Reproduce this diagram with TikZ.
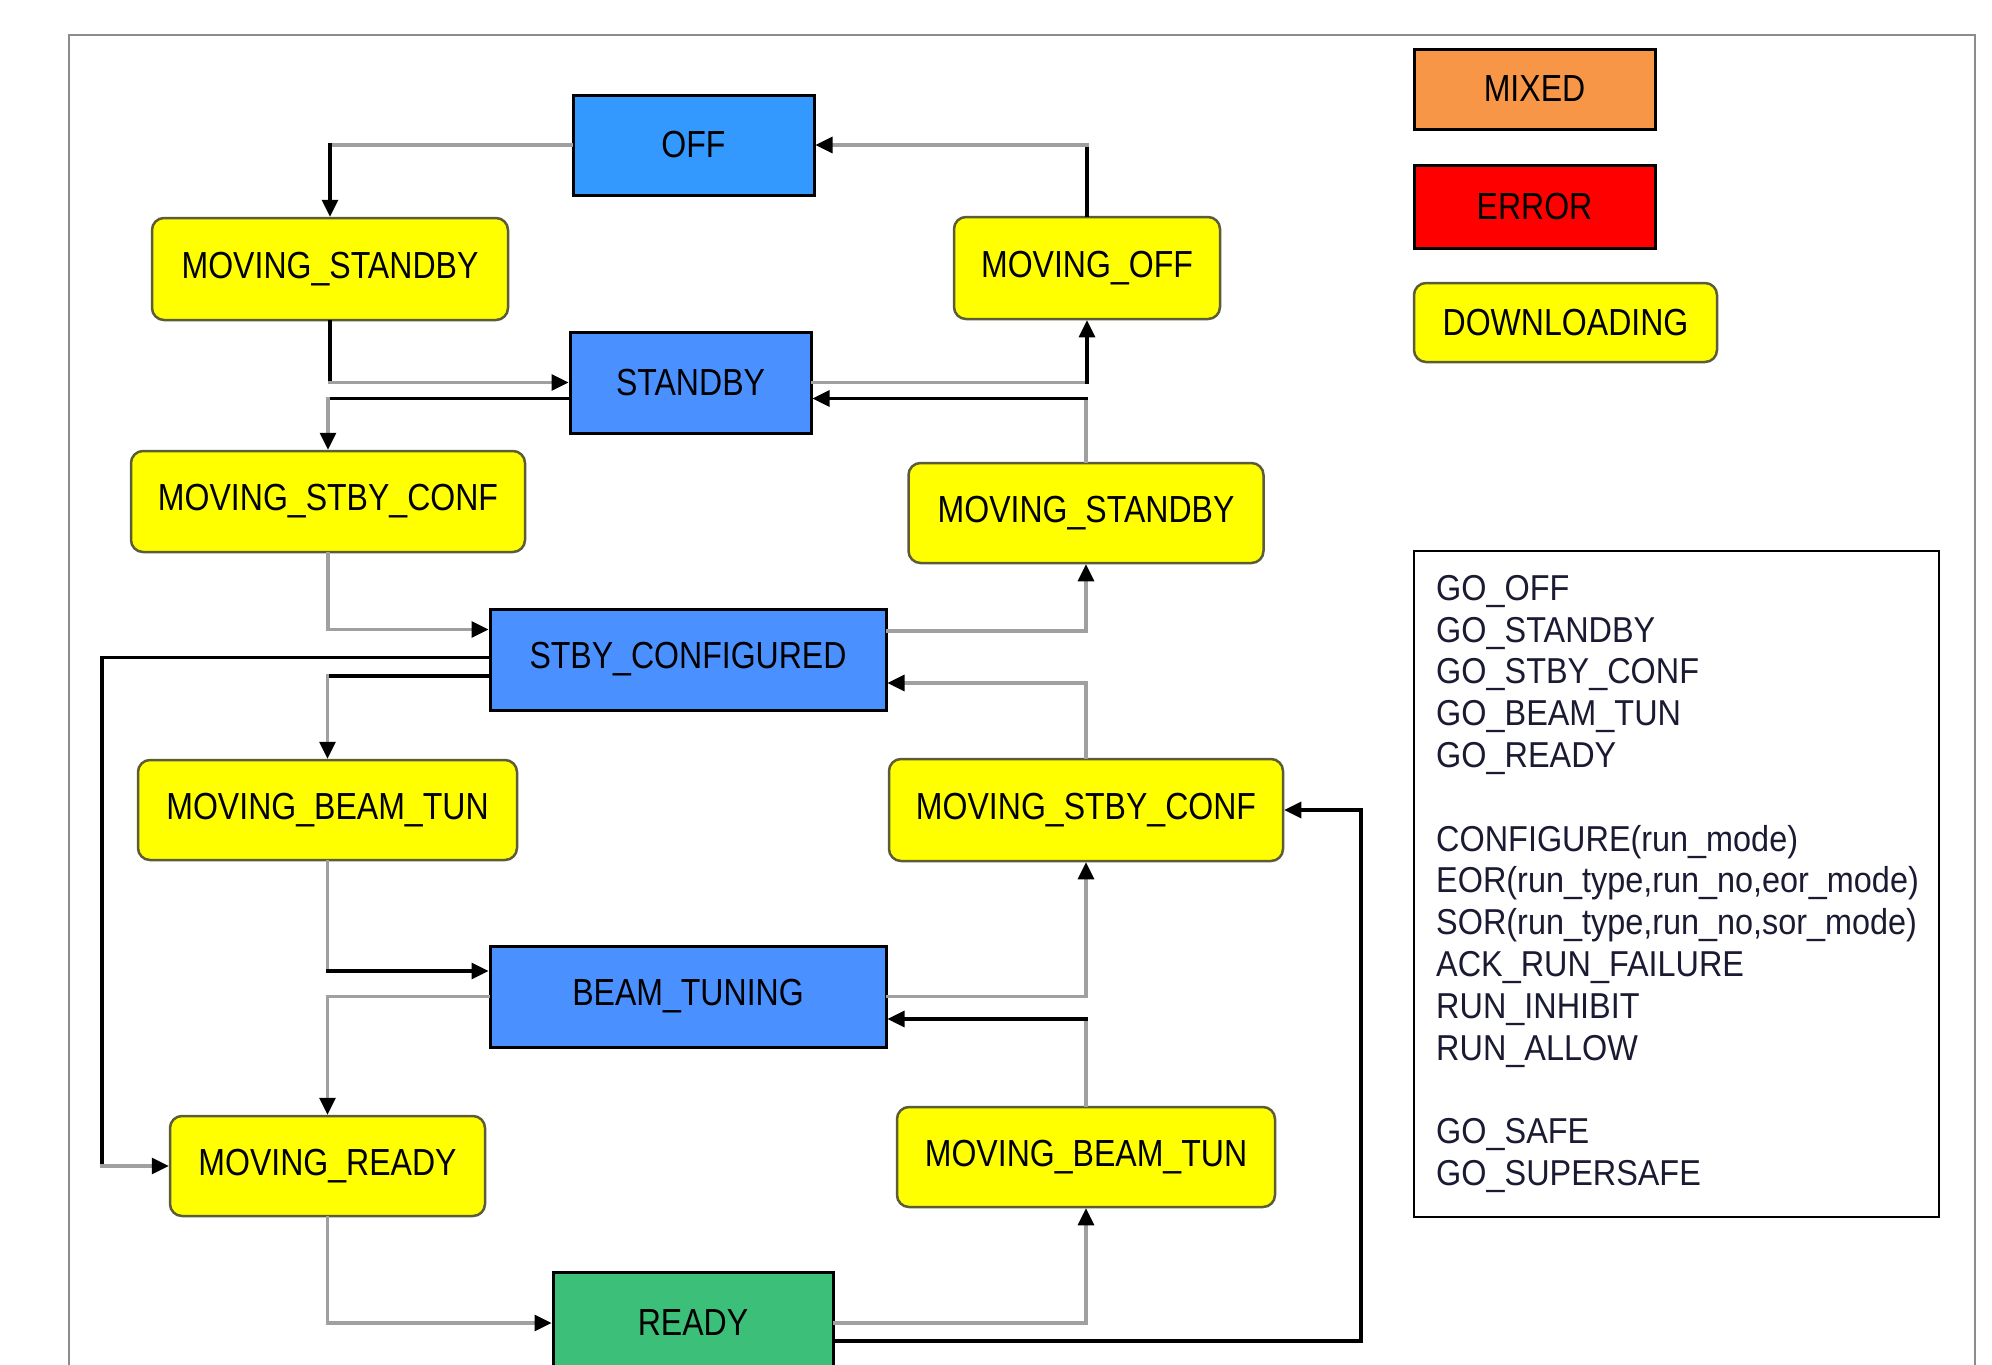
\documentclass[tikz,border=0pt]{standalone}
\usepackage{fontspec}
\setmainfont{Liberation Sans}
\newfontfamily\narrowf[FakeStretch=0.85]{Liberation Sans}
\newfontfamily\legf[FakeStretch=0.9]{Liberation Sans}
\usetikzlibrary{arrows.meta}
\definecolor{offblue}{HTML}{3399FF}
\definecolor{stblue}{HTML}{4A90FF}
\definecolor{readygreen}{HTML}{3CBF78}
\definecolor{mixedorange}{HTML}{F79646}
\definecolor{ylw}{HTML}{FFFF00}
\definecolor{yborder}{HTML}{5C5C38}
\definecolor{lgray}{HTML}{A0A0A0}
\definecolor{framegray}{HTML}{8C8C8C}
\definecolor{legtext}{HTML}{1A1A33}
\begin{document}
\begin{tikzpicture}[x=1pt,y=-1pt,
  base/.style={font=\narrowf\fontsize{37.7}{44}\selectfont, inner sep=0pt, anchor=center, text=black},
  sq/.style={base, draw=black, line width=3pt, rectangle},
  mv/.style={base, draw=yborder, fill=ylw, line width=2.5pt, rounded corners=12pt},
  bx/.style 2 args={minimum width=#1pt, minimum height=#2pt},
  blk/.style={draw=black, line width=3.2pt, line cap=rect},
  gry/.style={draw=lgray, line width=3.2pt, line cap=rect},
  tip/.style={-{Triangle[length=17pt,width=16pt,color=black]}},
]
\useasboundingbox (0,0) rectangle (1992,1365);
\fill[white] (0,0) rectangle (1992,1365);
% frame
\draw[framegray, line width=2pt] (69,1380) -- (69,35) -- (1974.5,35) -- (1974.5,1380);

% state nodes
\node[sq, fill=offblue, bx={241}{100}] (off) at (693.5,145) {OFF};
\node[mv, bx={356}{102}] (msL) at (330,269) {MOVING\_STANDBY};
\node[sq, fill=stblue, bx={241}{101}] (standby) at (690.5,382.5) {STANDBY};
\node[mv, bx={394}{101}] (mscL) at (328,501.5) {MOVING\_STBY\_CONF};
\node[mv, bx={266}{102}] (moff) at (1087,268) {MOVING\_OFF};
\node[mv, bx={355}{100}] (msR) at (1086,513) {MOVING\_STANDBY};
\node[sq, fill=stblue, bx={396}{101}] (sc) at (688,659.5) {STBY\_CONFIGURED};
\node[mv, bx={379}{100}] (mbtL) at (327.5,810) {MOVING\_BEAM\_TUN};
\node[mv, bx={394}{102}] (mscR) at (1086,810) {MOVING\_STBY\_CONF};
\node[sq, fill=stblue, bx={396}{101}] (bt) at (688,996.5) {BEAM\_TUNING};
\node[mv, bx={315}{100}] (mr) at (327.5,1166) {MOVING\_READY};
\node[mv, bx={378}{100}] (mbtR) at (1086,1157) {MOVING\_BEAM\_TUN};
\node[sq, fill=readygreen, bx={280}{102}] (ready) at (693,1323) {READY};

% colour legend
\node[sq, fill=mixedorange, bx={241}{80}] (mixed) at (1534.5,89) {MIXED};
\node[sq, fill=red, bx={241}{83}] (error) at (1534.5,206.5) {ERROR};
\node[mv, bx={303}{79}] (down) at (1565.5,322.5) {DOWNLOADING};

% command legend
\node[draw=black, line width=2.5pt, minimum width=525pt, minimum height=666pt, inner sep=0pt] (legend) at (1676.5,884) {};
\node[anchor=north west, align=left, inner sep=0pt, text=legtext,
      font=\legf\fontsize{36}{41.8}\selectfont] (legtxt) at (1436,575)
 {GO\_OFF\\GO\_STANDBY\\GO\_STBY\_CONF\\GO\_BEAM\_TUN\\GO\_READY\\[41.8pt]
  CONFIGURE(run\_mode)\\EOR(run\_type,run\_no,eor\_mode)\\SOR(run\_type,run\_no,sor\_mode)\\ACK\_RUN\_FAILURE\\RUN\_INHIBIT\\RUN\_ALLOW\\[41.8pt]
  GO\_SAFE\\GO\_SUPERSAFE};

% helper coordinates
\coordinate (lx) at (102,0);
\coordinate (rx) at (1361,0);
\coordinate (s3) at ([yshift=-16pt]standby.west);
\coordinate (e4) at ([yshift=30pt]sc.west);
\coordinate (s5) at ([yshift=2pt]sc.west);
\coordinate (s6) at ([yshift=-16.5pt]sc.west);
\coordinate (e7) at ([yshift=25.5pt]bt.west);
\coordinate (s11) at ([yshift=-18pt]ready.east);
\coordinate (e12) at ([yshift=-22.5pt]bt.east);
\coordinate (e14) at ([yshift=-23.5pt]sc.east);
\coordinate (s15) at ([yshift=28.5pt]sc.east);
\coordinate (e16) at ([yshift=-16pt]standby.east);

% 1 OFF -> MOVING_STANDBY
\draw[gry] (off.west) -- (off.west -| msL.north);
\draw[blk,tip] (off.west -| msL.north) -- (msL.north);
% 2 MOVING_STANDBY -> STANDBY
\draw[blk] (msL.south) -- (msL.south |- standby.west);
\draw[gry,tip] (msL.south |- standby.west) -- (standby.west);
% 3 STANDBY -> MOVING_STBY_CONF
\draw[blk] (s3) -- (s3 -| mscL.north);
\draw[gry,tip] (s3 -| mscL.north) -- (mscL.north);
% 4 MOVING_STBY_CONF -> STBY_CONFIGURED
\draw[gry,tip] (mscL.south) |- (e4);
% 5 STBY_CONFIGURED -> MOVING_READY
\draw[blk] (s5) -- (s5 -| lx) -- (mr.west -| lx);
\draw[gry,tip] (mr.west -| lx) -- (mr.west);
% 6 STBY_CONFIGURED -> MOVING_BEAM_TUN
\draw[blk] (s6) -- (s6 -| mbtL.north);
\draw[gry,tip] (s6 -| mbtL.north) -- (mbtL.north);
% 7 MOVING_BEAM_TUN -> BEAM_TUNING
\draw[gry] (mbtL.south) -- (mbtL.south |- e7);
\draw[blk,tip] (mbtL.south |- e7) -- (e7);
% 8 BEAM_TUNING -> MOVING_READY
\draw[gry,tip] (bt.west) -| (mr.north);
% 9 MOVING_READY -> READY
\draw[gry,tip] (mr.south) |- (ready.west);
% 10 READY -> MOVING_BEAM_TUN
\draw[gry,tip] (ready.east) -| (mbtR.south);
% 11 READY -> MOVING_STBY_CONF
\draw[blk,tip] (s11) -- (s11 -| rx) -- (mscR.east -| rx) -- (mscR.east);
% 12 MOVING_BEAM_TUN -> BEAM_TUNING
\draw[gry] (mbtR.north) -- (mbtR.north |- e12);
\draw[blk,tip] (mbtR.north |- e12) -- (e12);
% 13 BEAM_TUNING -> MOVING_STBY_CONF
\draw[gry,tip] (bt.east) -| (mscR.south);
% 14 MOVING_STBY_CONF -> STBY_CONFIGURED
\draw[gry,tip] (mscR.north) |- (e14);
% 15 STBY_CONFIGURED -> MOVING_STANDBY
\draw[gry,tip] (s15) -| (msR.south);
% 16 MOVING_STANDBY -> STANDBY
\draw[gry] (msR.north) -- (msR.north |- e16);
\draw[blk,tip] (msR.north |- e16) -- (e16);
% 17 STANDBY -> MOVING_OFF
\draw[gry] (standby.east) -- (standby.east -| moff.south);
\draw[blk,tip] (standby.east -| moff.south) -- (moff.south);
% 18 MOVING_OFF -> OFF
\draw[blk] (moff.north) -- (moff.north |- off.east);
\draw[gry,tip] (moff.north |- off.east) -- (off.east);
\end{tikzpicture}
\end{document}
